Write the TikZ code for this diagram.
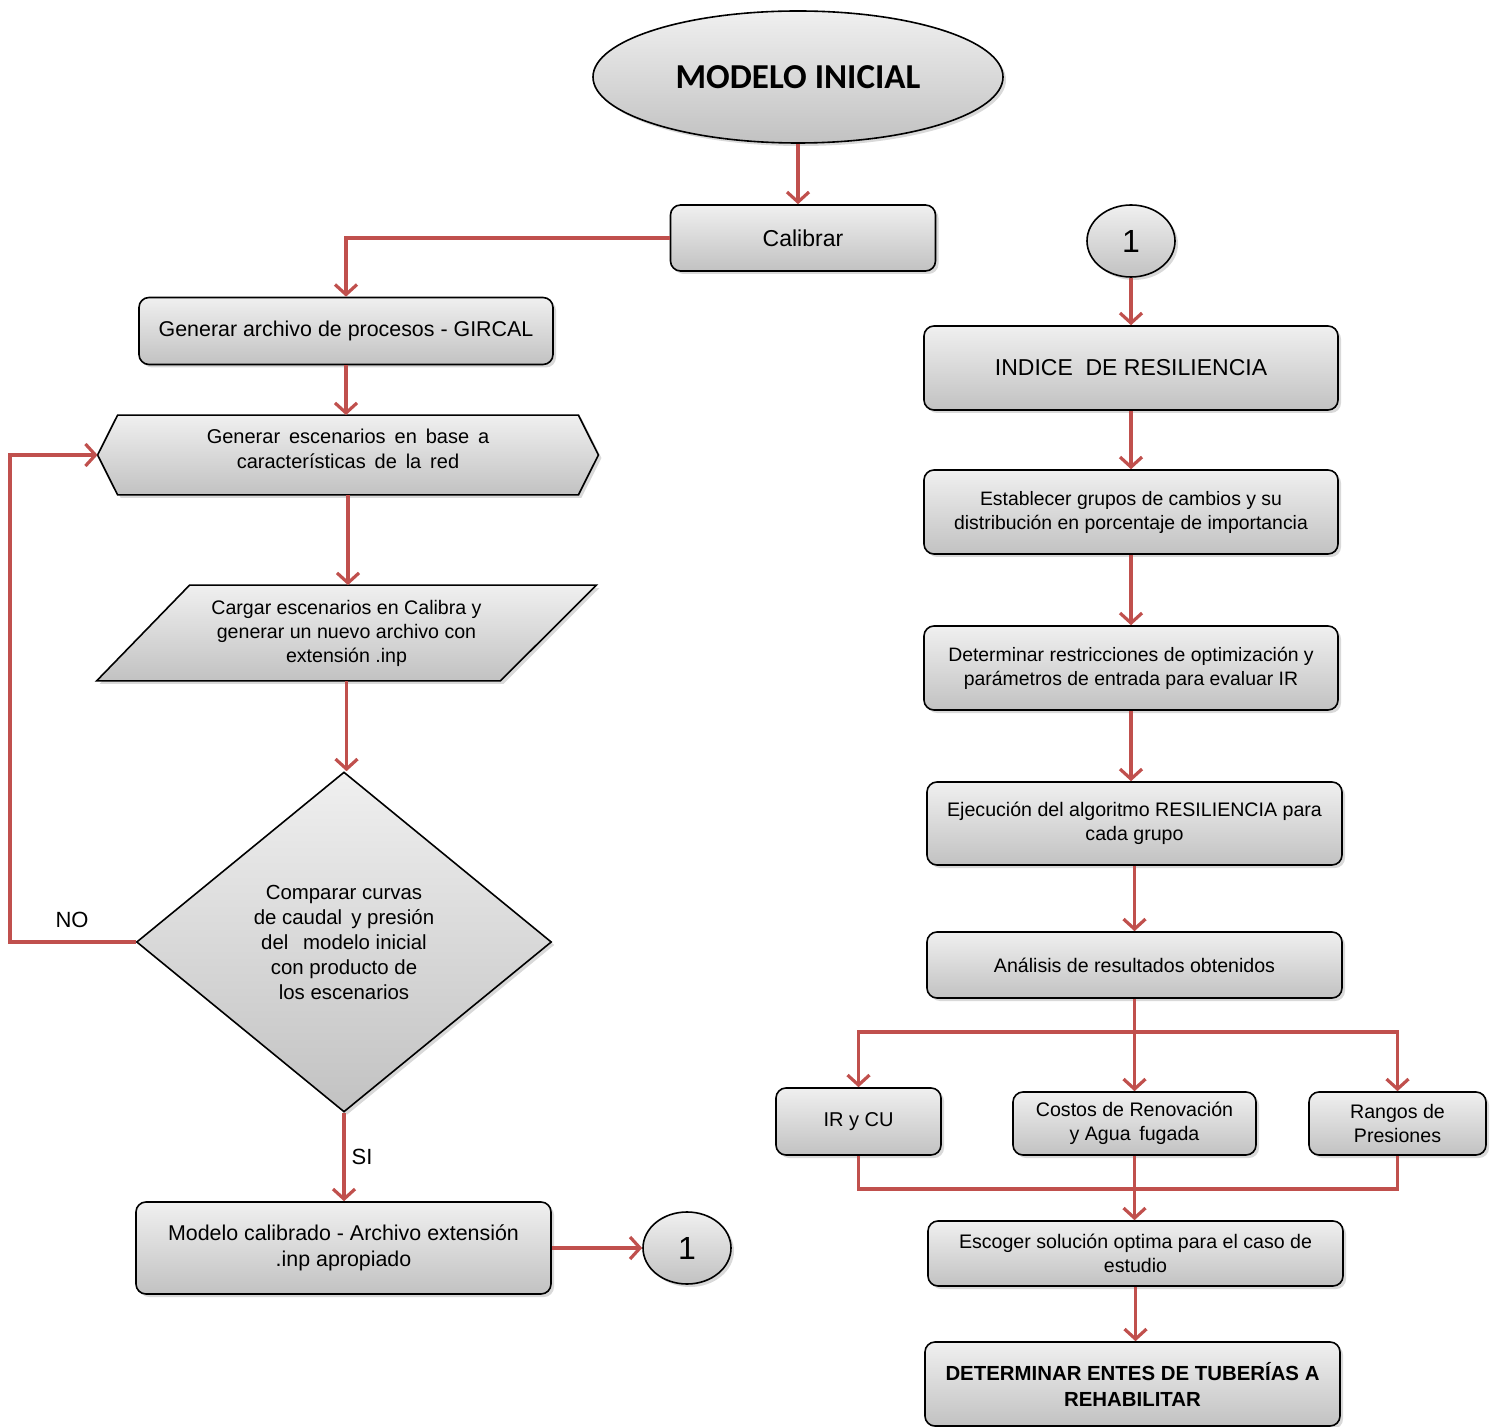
\documentclass[tikz,border=0pt]{standalone}
\usepackage{fontspec}
\setmainfont{Liberation Sans}
\newfontfamily\calibrifont{Carlito}
\usetikzlibrary{shapes.geometric,arrows.meta,shadows}
\definecolor{arrowred}{RGB}{192,80,77}
\newcommand\myfs[2]{\fontsize{#1}{#2}\selectfont}
\pgfdeclarelayer{bg}
\pgfsetlayers{bg,main}
\begin{document}
\begin{tikzpicture}[x=0.5pt,y=-0.5pt,
  fillshade/.style={draw=black, line width=0.8pt, top color=gray!12, bottom color=gray!48,
    drop shadow={shadow xshift=1.5pt,shadow yshift=-1.5pt,opacity=0.3}},
  box/.style={fillshade, rectangle, rounded corners=5pt, align=center, inner sep=2pt},
  plain/.style={rectangle, align=center, inner sep=0pt},
  conn/.style={draw=arrowred, line width=1.6pt},
  arr/.style={conn, -{Straight Barb[length=5pt,width=11pt,line width=1.6pt]}},
  circ/.style={fillshade, ellipse, minimum width=44pt, minimum height=36pt, inner sep=0pt, font=\myfs{16pt}{18pt}},
  lbl/.style={font=\myfs{11pt}{13pt}}
]
\useasboundingbox (0,0) rectangle (1499,1427);

% ---------- left column ----------
\node[fillshade, ellipse, minimum width=205pt, minimum height=66pt, inner sep=0pt,
      font=\calibrifont\bfseries\myfs{17.5pt}{20pt}] (ell) at (798,77) {MODELO INICIAL};
\node[box, minimum width=132.5pt, minimum height=33pt, font=\myfs{11.5pt}{14pt}] (cal) at (803,238) {Calibrar};
\node[box, minimum width=207pt, minimum height=33.5pt, font=\myfs{10.7pt}{13pt}] (gir) at (346,331) {Generar archivo de procesos - GIRCAL};
\node[plain, minimum width=250pt, minimum height=39.5pt] (hex) at (348,455) {};
\node[plain, font=\myfs{10pt}{12.5pt}] (hext) at (348,449)
  {Generar\, escenarios\, en\, base\, a\\caracter\'{\i}sticas\, de\, la\, red};
\node[plain, minimum width=249.5pt, minimum height=47.5pt, font=\myfs{9.8pt}{12pt}] (para) at (346.5,633)
  {Cargar escenarios en Calibra y\\generar un nuevo archivo con\\extensión .inp};
\node[fillshade, diamond, aspect=1.22, minimum width=207.5pt, minimum height=170pt, inner sep=0pt,
      align=center, font=\myfs{10.2pt}{12.5pt}] (dia) at (344,942)
  {Comparar curvas\\de caudal\, y presión\\del\;\, modelo inicial\\con producto de\\los escenarios};
\node[box, minimum width=207.5pt, minimum height=46pt, font=\myfs{10.7pt}{13pt}] (mod) at (343.5,1248)
  {Modelo calibrado - Archivo extensión\\.inp apropiado};
\node[circ] (c1) at (687,1248) {1};

\begin{pgfonlayer}{bg}
  \path[fillshade] (hex.west) -- ([xshift=10pt]hex.north west) -- ([xshift=-10pt]hex.north east)
     -- (hex.east) -- ([xshift=-10pt]hex.south east) -- ([xshift=10pt]hex.south west) -- cycle;
  \path[fillshade] ([xshift=46.5pt]para.north west) -- (para.north east)
     -- ([xshift=-48pt]para.south east) -- (para.south west) -- cycle;
\end{pgfonlayer}

\coordinate (loop) at (10,942);
\node[lbl] (no) at (72,920) {NO};
\node[lbl] (si) at (362,1157) {SI};

\draw[arr] (ell.south) -- (ell.south |- cal.north);
\draw[arr] (cal.west) -| (gir.north);
\draw[arr] (gir.south) -- (gir.south |- hex.north);
\draw[arr] (hex.south) -- (hex.south |- para.north);
\draw[arr] (para.south) -- (para.south |- dia.north);
\draw[arr] (dia.west) -- (loop) |- (hex.west);
\draw[arr] (dia.south) -- (dia.south |- mod.north);
\draw[arr] (mod.east) -- (c1.west);

% ---------- right column ----------
\node[circ] (c2) at (1131,241) {1};
\node[box, minimum width=207pt, minimum height=42pt, font=\myfs{11.5pt}{14pt}] (ind) at (1131,368) {INDICE\; DE RESILIENCIA};
\node[box, minimum width=207pt, minimum height=42pt, font=\myfs{9.7pt}{12pt}] (est) at (1131,512)
  {Establecer grupos de cambios y su\\distribución en porcentaje de importancia};
\node[box, minimum width=207pt, minimum height=42pt, font=\myfs{9.7pt}{12pt}] (det) at (1131,668)
  {Determinar restricciones de optimización y\\parámetros de entrada para evaluar IR};
\node[box, minimum width=207.5pt, minimum height=41.5pt, font=\myfs{9.8pt}{12pt}] (eje) at (1134.5,823.5)
  {Ejecución del algoritmo RESILIENCIA para\\cada grupo};
\node[box, minimum width=207.5pt, minimum height=33pt, font=\myfs{9.8pt}{12pt}] (ana) at (1134.5,965)
  {Análisis de resultados obtenidos};
\node[box, minimum width=82.5pt, minimum height=33.5pt, font=\myfs{10pt}{12pt}] (ir) at (858.5,1121.5) {IR y CU};
\node[box, minimum width=121.5pt, minimum height=31.5pt, font=\myfs{9.8pt}{12pt}] (cos) at (1134.5,1123.5)
  {Costos de Renovación\\y Agua\, fugada};
\node[box, minimum width=88.5pt, minimum height=31.5pt, font=\myfs{9.8pt}{12pt}] (ran) at (1397.5,1123.5)
  {Rangos de\\Presiones};
\node[box, minimum width=207.5pt, minimum height=32.5pt, font=\myfs{9.8pt}{12pt}] (esc) at (1135.5,1253.5)
  {Escoger solución optima para el caso de\\estudio};
\node[box, minimum width=207.5pt, minimum height=42pt, font=\bfseries\myfs{10.2pt}{13pt}] (fin) at (1132.5,1384)
  {DETERMINAR ENTES DE TUBERÍAS A\\REHABILITAR};

\draw[arr] (c2.south) -- (c2.south |- ind.north);
\draw[arr] (ind.south) -- (ind.south |- est.north);
\draw[arr] (est.south) -- (est.south |- det.north);
\draw[arr] (det.south) -- (det.south |- eje.north);
\draw[arr] (eje.south) -- (eje.south |- ana.north);

\coordinate (split) at (1134.5,1032);
\coordinate (join) at (1134.5,1189);
\draw[conn] (ana.south) -- (split);
\draw[arr] (split) -| (ir.north);
\draw[arr] (split) -| (ran.north);
\draw[arr] (split) -- (cos.north);
\draw[conn] (ir.south) |- (join) -| (ran.south);
\draw[arr] (cos.south) -- (cos.south |- esc.north);
\draw[arr] (esc.south) -- (esc.south |- fin.north);
\end{tikzpicture}
\end{document}
